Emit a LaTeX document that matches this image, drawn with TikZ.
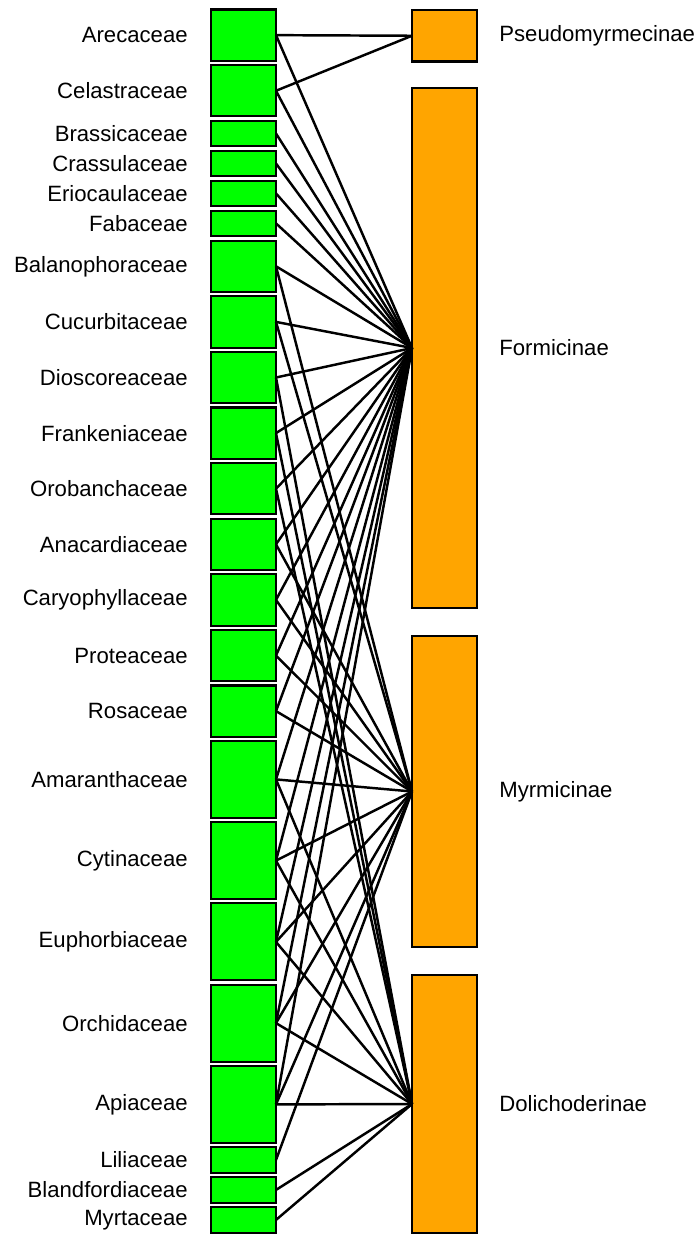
\documentclass[tikz,border=0pt]{standalone}
\usepackage{fontspec}
\setmainfont{Liberation Sans}
\usetikzlibrary{positioning}
\definecolor{plantgreen}{HTML}{00FF00}
\definecolor{antorange}{HTML}{FFA500}
\tikzset{plant/.style={draw=black, fill=plantgreen, line width=1.2pt, minimum width=1.3cm, inner sep=0pt, outer sep=0pt}, ant/.style={draw=black, fill=antorange, line width=1.2pt, minimum width=1.3cm, inner sep=0pt, outer sep=0pt}, link/.style={line width=1.4pt, color=black}, lab/.style={font=\fontsize{12.6}{15}\selectfont, inner sep=0pt}}
\begin{document}
\begin{tikzpicture}[x=0.02cm,y=-0.02cm]
\useasboundingbox (0,0) rectangle (698,1234);
\foreach \nm/\lab/\yc/\h in {arec/Arecaceae/35.15/51.3, cel/Celastraceae/90.75/51.3, bras/Brassicaceae/133.5/25.6, crass/Crassulaceae/163.5/25.6, erio/Eriocaulaceae~/193.4/25.6, fab/Fabaceae/223.4/25.6, bal/Balanophoraceae/266.3/51.3, cuc/Cucurbitaceae/321.9/51.3, dio/Dioscoreaceae/377.5/51.3, fra/Frankeniaceae/433.1/51.3, oro/Orobanchaceae/488.7/51.3, ana/Anacardiaceae/544.3/51.3, car/Caryophyllaceae/599.9/51.3, pro/Proteaceae/655.5/51.3, ros/Rosaceae/711.1/51.3, ama/Amaranthaceae/779.4/77, cyt/Cytinaceae/860.6/77, eup/Euphorbiaceae/941.9/77, orc/Orchidaceae/1023.1/77, api/Apiaceae/1104.4/77, lil/Liliaceae/1160/25.6, bla/Blandfordiaceae/1189.9/25.6, myr/Myrtaceae/1219.9/25.6}
  {\node[plant, minimum height=\h*0.02cm] (\nm) at (243.5,\yc) {};
   \node[lab, anchor=east] (\nm-lab) at (188,\yc) {\lab};}
\foreach \nm/\lab/\yc/\h in {pseu/Pseudomyrmecinae/35.75/51.5, form/Formicinae/348/520, myrm/Myrmicinae/791.5/311, doli/Dolichoderinae/1104/258}
  {\node[ant, minimum height=\h*0.02cm] (\nm) at (444.5,\yc) {};
   \node[lab, anchor=west] (\nm-lab) at (499,\yc) {\lab};}
\foreach \a/\b in {arec/pseu, cel/pseu, arec/form, cel/form, bras/form, crass/form, erio/form, fab/form, bal/form, bal/myrm, cuc/form, cuc/myrm, dio/form, dio/doli, fra/form, fra/doli, oro/form, oro/doli, ana/form, ana/myrm, car/form, car/myrm, pro/form, pro/myrm, ros/form, ros/myrm, ama/form, ama/myrm, ama/doli, cyt/form, cyt/myrm, cyt/doli, eup/form, eup/myrm, eup/doli, orc/form, orc/myrm, orc/doli, api/form, api/myrm, api/doli, lil/myrm, bla/doli, myr/doli}
  \draw[link] (\a.east) -- (\b.west);
\end{tikzpicture}
\end{document}
